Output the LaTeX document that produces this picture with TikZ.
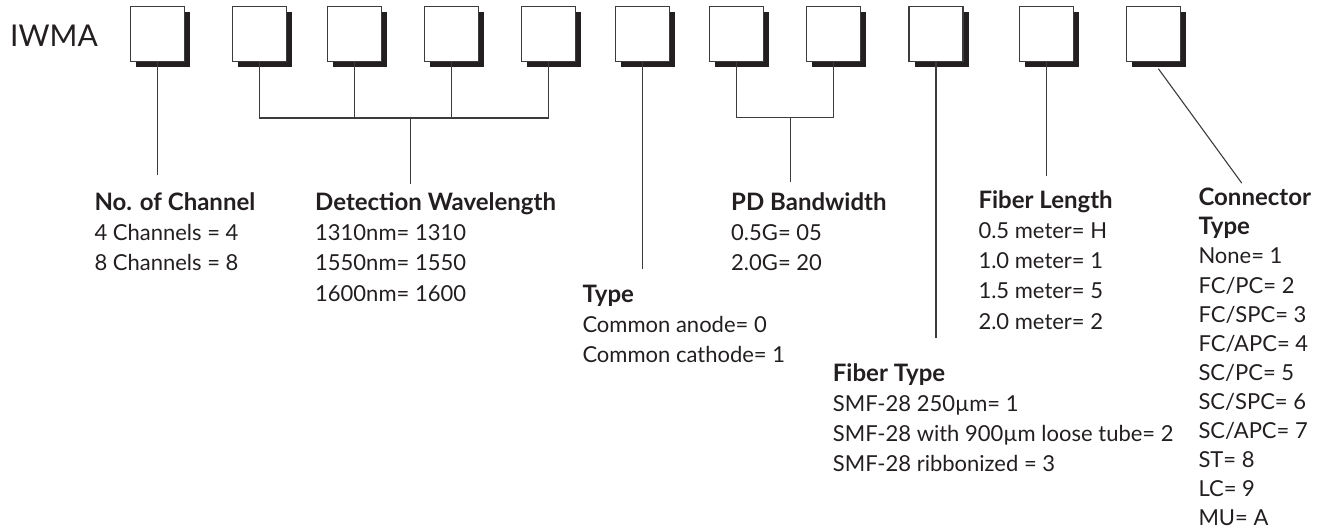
\documentclass[tikz,border=0pt]{standalone}
\usepackage{fontspec}
\setmainfont{Lato}
\usetikzlibrary{shadows,calc}
\definecolor{ink}{HTML}{231F20}
\definecolor{rule}{HTML}{3C3C3C}
\newcommand\head[1]{{\fontsize{24}{30}\selectfont\bfseries #1}}

\begin{document}
\begin{tikzpicture}[x=1pt,y=-1pt]
  \tikzstyle{every node}+=[inner sep=0pt, text=ink]
  \tikzstyle{digit}=[draw=rule, line width=1.2pt, fill=white, minimum width=54pt, minimum height=55pt,
    general shadow={fill=ink, shadow xshift=5.5pt, shadow yshift=-5.5pt}]
  \tikzstyle{field}=[anchor=north west, align=left, font=\fontsize{22}{30.3}\selectfont]
  \tikzstyle{lead}=[draw=rule, line width=1.1pt]

  \useasboundingbox (0,0) rectangle (1335,529);
  \node[anchor=base west, font=\fontsize{30}{30}\selectfont] (code) at (10,46.7) {IWMA};
  \foreach \x [count=\i] in {157.7,259.3,354.7,451.7,548.7,642.7,736.3,833.7,936,1046.3,1153.7}
    \node[digit] (b\i) at (\x,34.2) {};

  \node[field] (chan) at (94.3,192.3) {\head{No. of Channel}\\4 Channels = 4\\8 Channels = 8};
  \node[field] (wave) at (315,192.3) {\head{Detection Wavelength}\\1310nm= 1310\\1550nm= 1550\\1600nm= 1600};
  \node[field] (kind) at (582.3,284.7) {\head{Type}\\Common anode= 0\\Common cathode= 1};
  \node[field] (band) at (731,192) {\head{PD Bandwidth}\\0.5G= 05\\2.0G= 20};
  \node[field] (ftype) at (832.7,363) {\head{Fiber Type}\\SMF-28 250µm= 1\\SMF-28 with 900µm loose tube= 2\\SMF-28 ribbonized = 3};
  \node[field] (flen) at (978.3,190) {\head{Fiber Length}\\0.5 meter= H\\1.0 meter= 1\\1.5 meter= 5\\2.0 meter= 2};
  \node[field, font=\fontsize{22}{29.1}\selectfont] (conn) at (1198.3,188) {\head{Connector}\\\head{Type}\\None= 1\\FC/PC= 2\\FC/SPC= 3\\FC/APC= 4\\SC/PC= 5\\SC/SPC= 6\\SC/APC= 7\\ST= 8\\LC= 9\\MU= A};

  \draw[lead, shorten >=17pt] (b1.south) -- (b1.south |- chan.north);

  \coordinate (wj) at (410.7,118);
  \draw[lead] (b2.south) |- (wj) -| (b5.south);
  \draw[lead] (b3.south) -- (b3.south |- wj);
  \draw[lead] (b4.south) -- (b4.south |- wj);
  \draw[lead, shorten >=8pt] (wj) -- (wj |- wave.north);

  \draw[lead, shorten >=16pt] (b6.south) -- (b6.south |- kind.north);

  \coordinate (pj) at (790.3,117.7);
  \draw[lead] (b7.south) |- (pj) -| (b8.south);
  \draw[lead, shorten >=10pt] (pj) -- (pj |- band.north);

  \draw[lead, shorten >=25pt] (b9.south) -- (b9.south |- ftype.north);
  \draw[lead, shorten >=14pt] (b10.south) -- (b10.south |- flen.north);
  \draw[lead, shorten <=8pt, shorten >=6pt] (b11.south) -- ($(conn.north west)+(47,0)$);
\end{tikzpicture}
\end{document}
